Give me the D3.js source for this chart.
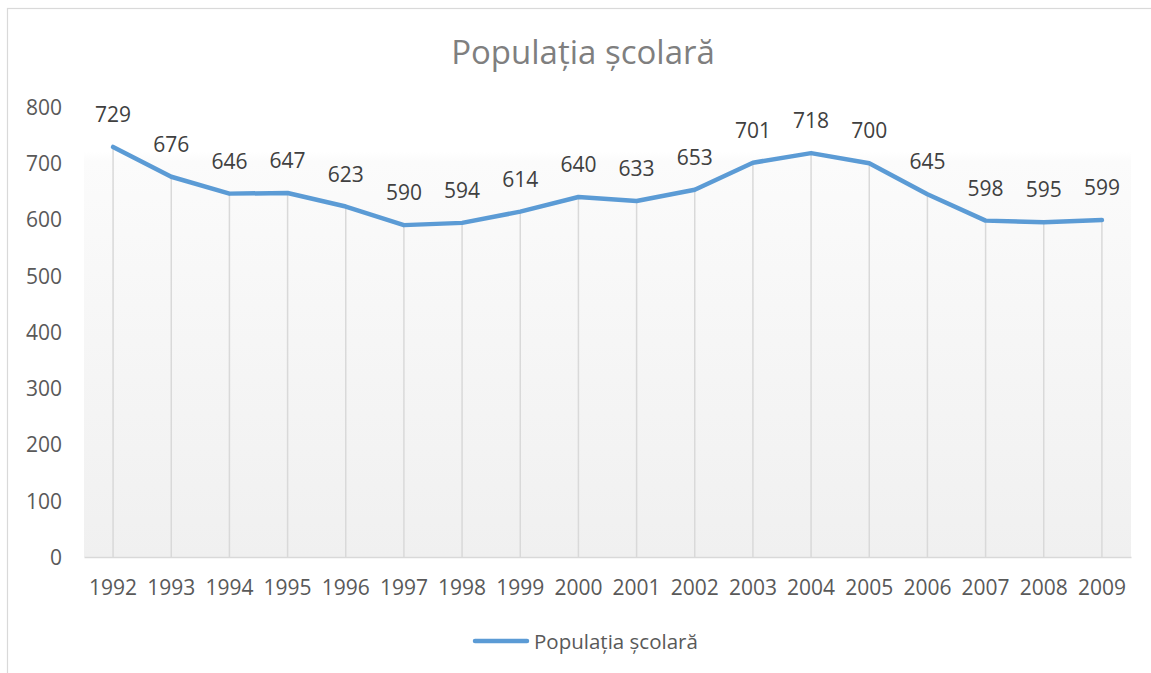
<!DOCTYPE html>
<html>
<head>
<meta charset="utf-8">
<script src="https://cdn.jsdelivr.net/npm/d3@7"></script>
<style>
  html, body { margin: 0; padding: 0; background: #fff; }
  svg { display: block; font-family: "Open Sans", sans-serif; }
</style>
</head>
<body>
<svg id="chart" width="1151" height="673"></svg>
<script>
const title = "Populația școlară";
const seriesName = "Populația școlară";
const years = ["1992","1993","1994","1995","1996","1997","1998","1999","2000","2001","2002","2003","2004","2005","2006","2007","2008","2009"];
const values = [729,676,646,647,623,590,594,614,640,633,653,701,718,700,645,598,595,599];
const yTicks = [0,100,200,300,400,500,600,700,800];

const svg = d3.select("#chart");

// outer border
svg.append("rect").attr("x", 7.5).attr("y", 8.5).attr("width", 1160).attr("height", 680)
  .attr("fill", "#fff").attr("stroke", "#d9d9d9").attr("stroke-width", 1.2);

const plot = { left: 84, right: 1131, top: 107, bottom: 557 };

const x = d3.scaleBand().domain(years).range([plot.left, plot.right]).padding(0);
const y = d3.scaleLinear().domain([0, 800]).range([plot.bottom, plot.top]);
const cx = d => x(d) + x.bandwidth() / 2;

// gradient plot background
const defs = svg.append("defs");
const grad = defs.append("linearGradient").attr("id", "bg").attr("x1", 0).attr("y1", 0).attr("x2", 0).attr("y2", 1);
grad.append("stop").attr("offset", "0%").attr("stop-color", "#ffffff");
grad.append("stop").attr("offset", "10%").attr("stop-color", "#ffffff");
grad.append("stop").attr("offset", "12%").attr("stop-color", "#fbfbfb");
grad.append("stop").attr("offset", "100%").attr("stop-color", "#f0f0f0");
svg.append("rect").attr("x", plot.left).attr("y", plot.top)
  .attr("width", plot.right - plot.left).attr("height", plot.bottom - plot.top)
  .attr("fill", "url(#bg)");

// title
svg.append("text").attr("x", 583).attr("y", 64).attr("text-anchor", "middle")
  .attr("font-size", 33).attr("fill", "#7f7f7f").text(title);

// y axis labels
const yAxis = d3.axisLeft(y).tickValues(yTicks).tickSize(0).tickPadding(0);
const gy = svg.append("g").attr("transform", `translate(62,0)`).call(yAxis);
gy.select(".domain").remove();
gy.selectAll("text").attr("font-size", 21).attr("fill", "#595959")
  .attr("font-family", "Open Sans, sans-serif").attr("dy", "0.35em");

// drop lines
svg.append("g").selectAll("line").data(years).join("line")
  .attr("x1", d => cx(d)).attr("x2", d => cx(d))
  .attr("y1", (d, i) => y(values[i])).attr("y2", plot.bottom)
  .attr("stroke", "#d9d9d9").attr("stroke-width", 1.5);

// x axis
const xAxis = d3.axisBottom(x).tickSize(0).tickPadding(0);
const gx = svg.append("g").attr("transform", `translate(0,${plot.bottom})`).call(xAxis);
gx.select(".domain").attr("stroke", "#d9d9d9").attr("stroke-width", 1.5);
gx.selectAll("text").attr("font-size", 21).attr("fill", "#595959")
  .attr("font-family", "Open Sans, sans-serif").attr("y", 38).attr("dy", 0);

// line
const line = d3.line().x((d, i) => cx(years[i])).y(d => y(d));
svg.append("path").datum(values).attr("d", line)
  .attr("fill", "none").attr("stroke", "#5b9bd5").attr("stroke-width", 4.5)
  .attr("stroke-linejoin", "round").attr("stroke-linecap", "round");

// data labels
svg.append("g").selectAll("text").data(values).join("text")
  .attr("x", (d, i) => cx(years[i])).attr("y", d => y(d) - 25)
  .attr("text-anchor", "middle").attr("font-size", 21).attr("fill", "#404040")
  .text(d => d);

// legend
svg.append("line").attr("x1", 475).attr("x2", 527).attr("y1", 641).attr("y2", 641)
  .attr("stroke", "#5b9bd5").attr("stroke-width", 4.5).attr("stroke-linecap", "round");
svg.append("text").attr("x", 534).attr("y", 648.5).attr("font-size", 20.5).attr("fill", "#595959")
  .text(seriesName);
</script>
</body>
</html>
